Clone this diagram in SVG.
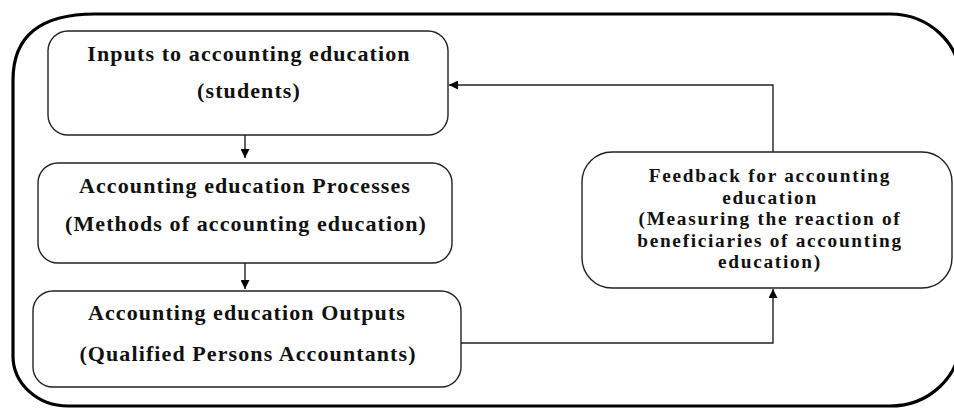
<svg xmlns="http://www.w3.org/2000/svg" width="954" height="409" viewBox="0 0 954 409">
<style>
.frame{fill:none;stroke:#000;stroke-width:3.2}
.box{fill:#fff;stroke:#222;stroke-width:1.4}
.t{font-family:"Liberation Serif","Times New Roman",serif;font-weight:bold;font-size:22px;fill:#111;text-anchor:middle;letter-spacing:1.1px}
.f{font-size:19.3px;letter-spacing:1.7px}
.c{fill:none;stroke:#222;stroke-width:1.4}
</style>
<defs>
<marker id="ah" viewBox="0 0 10 10" refX="10" refY="5" markerWidth="10" markerHeight="9" markerUnits="userSpaceOnUse" orient="auto">
<path d="M0,0 L10,5 L0,10 Z" fill="#000"/>
</marker>
</defs>
<path class="frame" d="M13,80 Q13,14 95,14 L890,14 A70,65 0 0 1 960,79 L960,341 A70,65 0 0 1 890,406 L68,406 A55,50 0 0 1 13,356 Z"/>
<g id="inputs">
<rect class="box" x="48" y="31" width="400" height="104" rx="20" ry="20"/>
<text class="t" x="249" y="61">Inputs to accounting education</text>
<text class="t" x="249" y="98">(students)</text>
</g>
<g id="processes">
<rect class="box" x="38" y="163" width="414" height="100" rx="20" ry="20"/>
<text class="t" x="245" y="193">Accounting education Processes</text>
<text class="t" x="246" y="231">(Methods of accounting education)</text>
</g>
<g id="outputs">
<rect class="box" x="33" y="291" width="428" height="96" rx="20" ry="20"/>
<text class="t" x="247" y="320">Accounting education Outputs</text>
<text class="t" x="248" y="361">(Qualified Persons Accountants)</text>
</g>
<g id="feedback">
<rect class="box" x="582" y="152" width="370" height="136" rx="30" ry="30"/>
<text class="t f" x="770" y="182">Feedback for accounting</text>
<text class="t f" x="770" y="203.5">education</text>
<text class="t f" x="770" y="225">(Measuring the reaction of</text>
<text class="t f" x="770" y="246.5">beneficiaries of accounting</text>
<text class="t f" x="770" y="268">education)</text>
</g>
<g id="connectors">
<path class="c" d="M245,135 L245,158" marker-end="url(#ah)"/>
<path class="c" d="M245,263 L245,289" marker-end="url(#ah)"/>
<path class="c" d="M461,343 L773,343 L773,289" marker-end="url(#ah)"/>
<path class="c" d="M773,152 L773,85 L449,85" marker-end="url(#ah)"/>
</g>
</svg>
